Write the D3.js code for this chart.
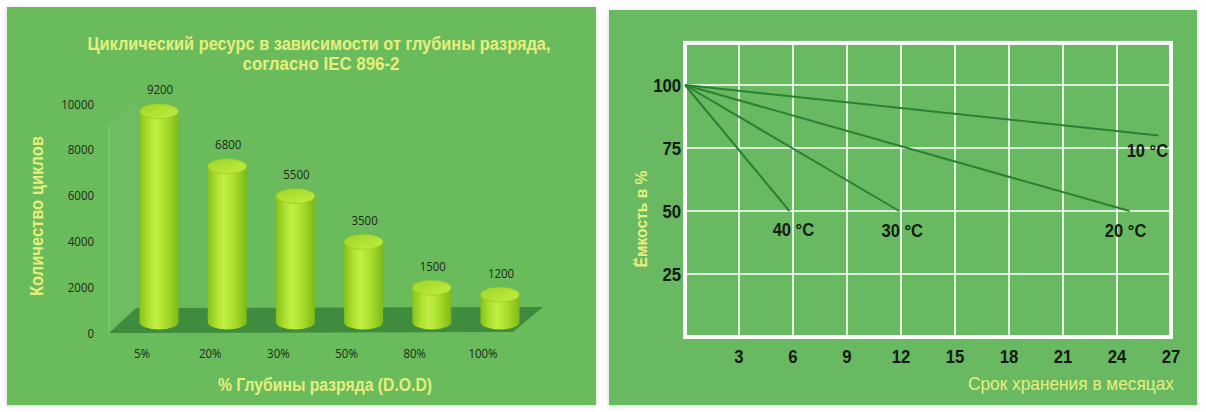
<!DOCTYPE html>
<html>
<head>
<meta charset="utf-8">
<script src="https://cdn.jsdelivr.net/npm/d3@7"></script>
<style>
  body { margin: 0; background: #fff; }
  svg { display: block; }
</style>
</head>
<body>
<script>
// left chart: cycle life vs depth of discharge
var dodLabels = ['5%', '20%', '30%', '50%', '80%', '100%'];
var cycles = [9200, 6800, 5500, 3500, 1500, 1200];
var cycleTicks = [0, 2000, 4000, 6000, 8000, 10000];

// right chart: capacity vs storage time, one line per temperature
var tempNames = ['10 °C', '20 °C', '30 °C', '40 °C'];
var storeMonths = [[0, 26.3], [0, 24.7], [0, 11.9], [0, 5.8]];
var storeCapacity = [[100, 80], [100, 50], [100, 50], [100, 50]];
var monthTicks = [3, 6, 9, 12, 15, 18, 21, 24, 27];
var capTicks = [25, 50, 75, 100];

const W = 1206, H = 412;
const yellow = '#e6ef7e';
const arial = '"Liberation Sans", Arial, sans-serif';
const calibri = '"Open Sans", "Liberation Sans", sans-serif';

const svg = d3.select('body').append('svg').attr('width', W).attr('height', H);

// narrow text: a font squeezed horizontally, like Arial Narrow
function narrow(sel, sx) {
  return sel.attr('transform', function() {
    const x = +d3.select(this).attr('x'), y = +d3.select(this).attr('y');
    d3.select(this).attr('x', 0).attr('y', 0);
    return `translate(${x},${y}) scale(${sx},1)`;
  });
}

const defs = svg.append('defs');
const sh = defs.append('filter').attr('id', 'shadow').attr('x', '-5%').attr('y', '-5%').attr('width', '110%').attr('height', '110%');
sh.append('feDropShadow').attr('dx', 0).attr('dy', 1).attr('stdDeviation', 2).attr('flood-color', '#000').attr('flood-opacity', 0.18);

const body = defs.append('linearGradient').attr('id', 'cyl').attr('x1', 0).attr('x2', 1).attr('y1', 0).attr('y2', 0);
[['0%', '#86c11c'], ['22%', '#acdf30'], ['42%', '#c2ef46'], ['70%', '#a6dc2a'], ['100%', '#7fb818']].forEach(s => {
  body.append('stop').attr('offset', s[0]).attr('stop-color', s[1]);
});
const topG = defs.append('linearGradient').attr('id', 'cyltop').attr('x1', 0).attr('x2', 1).attr('y1', 0).attr('y2', 1);
[['0%', '#a0d428'], ['60%', '#b4e436'], ['100%', '#c2ec48']].forEach(s => {
  topG.append('stop').attr('offset', s[0]).attr('stop-color', s[1]);
});

// ---------- left panel ----------
svg.append('rect').attr('x', 7).attr('y', 7).attr('width', 589).attr('height', 398)
  .attr('fill', '#6bbb5c').attr('filter', 'url(#shadow)');

const xL = d3.scalePoint().domain(dodLabels).range([142, 483]);
const yL = d3.scaleLinear().domain([0, 10000]).range([333, 104]);
const depthX = 17, depthY = 11; // 3d offset of the bar row behind the axis
const bx = d => xL(d) + depthX;
const by = v => yL(v) - depthY;
const rx = 19.5, ry = 7.5;

// side wall and floor
const left = xL.range()[0] - 33, right = xL.range()[1] + 60;
svg.append('path')
  .attr('d', `M${left},${yL(10000) + 20}L${left + 28},${yL(10000) - 4}L${left + 28},${yL(0) - 25}L${left},${yL(0)}Z`)
  .attr('fill', '#ffffff').attr('opacity', 0.03);
svg.append('line').attr('x1', left).attr('x2', left).attr('y1', yL(10000) + 20).attr('y2', yL(0))
  .attr('stroke', '#86c977').attr('stroke-width', 1);
svg.append('path')
  .attr('d', `M${left},${yL(0)}L${left + 27},${yL(0) - 25}L${right},${yL(0) - 26}L${right - 30},${yL(0) - 1}Z`)
  .attr('fill', '#3f8c3f');

// cylinders
const bars = svg.append('g').selectAll('g').data(cycles).enter().append('g');
bars.append('path')
  .attr('d', (d, i) => {
    const cx = bx(dodLabels[i]), t = by(d), b = by(0);
    return `M${cx - rx},${t}L${cx - rx},${b}A${rx},${ry} 0 0 0 ${cx + rx},${b}L${cx + rx},${t}Z`;
  })
  .attr('fill', 'url(#cyl)');
bars.append('ellipse')
  .attr('cx', (d, i) => bx(dodLabels[i])).attr('cy', d => by(d))
  .attr('rx', rx).attr('ry', ry)
  .attr('fill', 'url(#cyltop)').attr('stroke', '#8cc422').attr('stroke-width', 0.6);

narrow(bars.append('text')
  .attr('x', (d, i) => bx(dodLabels[i]) + 1).attr('y', d => by(d) - 17)
  .attr('text-anchor', 'middle').attr('font-family', calibri).attr('font-size', 13.5)
  .attr('fill', '#1f2a17').text(d => d), 0.85);

// axes labels
narrow(svg.append('g').selectAll('text').data(cycleTicks).enter().append('text')
  .attr('x', 94).attr('y', d => yL(d) + 4.5).attr('text-anchor', 'end')
  .attr('font-family', calibri).attr('font-size', 13.5).attr('fill', '#1f2a17').text(d => d), 0.85);

narrow(svg.append('g').selectAll('text').data(dodLabels).enter().append('text')
  .attr('x', d => xL(d)).attr('y', 358).attr('text-anchor', 'middle')
  .attr('font-family', calibri).attr('font-size', 13.5).attr('fill', '#1f2a17').text(d => d), 0.85);

svg.append('text').attr('x', 319).attr('y', 50).attr('text-anchor', 'middle')
  .attr('font-family', arial).attr('font-weight', 'bold').attr('font-size', 18).attr('fill', yellow)
  .attr('textLength', 463).attr('lengthAdjust', 'spacingAndGlyphs')
  .text('Циклический ресурс в зависимости от глубины разряда,');
svg.append('text').attr('x', 321).attr('y', 70).attr('text-anchor', 'middle')
  .attr('font-family', arial).attr('font-weight', 'bold').attr('font-size', 18).attr('fill', yellow)
  .attr('textLength', 157).attr('lengthAdjust', 'spacingAndGlyphs')
  .text('согласно IEC 896-2');

svg.append('text').attr('transform', 'translate(43,216) rotate(-90)')
  .attr('text-anchor', 'middle')
  .attr('font-family', arial).attr('font-weight', 'bold').attr('font-size', 18).attr('fill', yellow)
  .attr('textLength', 160).attr('lengthAdjust', 'spacingAndGlyphs')
  .text('Количество циклов');

svg.append('text').attr('x', 325).attr('y', 391).attr('text-anchor', 'middle')
  .attr('font-family', arial).attr('font-weight', 'bold').attr('font-size', 18).attr('fill', yellow)
  .attr('textLength', 214).attr('lengthAdjust', 'spacingAndGlyphs')
  .text('% Глубины разряда (D.O.D)');

// ---------- right panel ----------
svg.append('rect').attr('x', 609).attr('y', 10).attr('width', 588).attr('height', 395)
  .attr('fill', '#67b962').attr('filter', 'url(#shadow)');

const xR = d3.scaleLinear().domain([0, 27]).range([685, 1171]);
const yR = d3.scaleLinear().domain([0, 100]).range([337, 85]);
const capTop = 116.7;

const grid = svg.append('g').attr('stroke', '#ffffff').attr('stroke-width', 1.6);
grid.selectAll('.v').data(monthTicks.slice(0, -1)).enter().append('line')
  .attr('x1', d => xR(d)).attr('x2', d => xR(d)).attr('y1', yR(0)).attr('y2', yR(capTop));
grid.selectAll('.h').data(capTicks).enter().append('line')
  .attr('x1', xR(0)).attr('x2', xR(27)).attr('y1', d => yR(d)).attr('y2', d => yR(d));
svg.append('rect').attr('x', xR(0)).attr('y', yR(capTop))
  .attr('width', xR(27) - xR(0)).attr('height', yR(0) - yR(capTop))
  .attr('fill', 'none').attr('stroke', '#ffffff').attr('stroke-width', 4);

const line = d3.line().x(d => xR(d[0])).y(d => yR(d[1]));
const series = tempNames.map((n, i) => storeMonths[i].map((m, j) => [m, storeCapacity[i][j]]));
svg.append('g').selectAll('path').data(series).enter().append('path')
  .attr('d', line).attr('fill', 'none').attr('stroke', '#2b8034').attr('stroke-width', 2);

const labelShift = [[-11, 22], [-4, 26], [3, 26], [4, 25]];
narrow(svg.append('g').selectAll('text').data(series).enter().append('text')
  .attr('x', (d, i) => xR(d[1][0]) + labelShift[i][0]).attr('y', (d, i) => yR(d[1][1]) + labelShift[i][1])
  .attr('text-anchor', 'middle')
  .attr('font-family', arial).attr('font-weight', 'bold').attr('font-size', 19).attr('fill', '#141a12')
  .text((d, i) => tempNames[i]), 0.87);

narrow(svg.append('g').selectAll('text').data(capTicks).enter().append('text')
  .attr('x', 681).attr('y', d => yR(d) + 7).attr('text-anchor', 'end')
  .attr('font-family', arial).attr('font-weight', 'bold').attr('font-size', 19).attr('fill', '#141a12')
  .text(d => d), 0.88);

narrow(svg.append('g').selectAll('text').data(monthTicks).enter().append('text')
  .attr('x', d => xR(d)).attr('y', 363).attr('text-anchor', 'middle')
  .attr('font-family', arial).attr('font-weight', 'bold').attr('font-size', 19).attr('fill', '#141a12')
  .text(d => d), 0.88);

svg.append('text').attr('transform', 'translate(647,219) rotate(-90)')
  .attr('text-anchor', 'middle')
  .attr('font-family', arial).attr('font-weight', 'bold').attr('font-size', 16).attr('fill', yellow)
  .attr('textLength', 97).attr('lengthAdjust', 'spacingAndGlyphs')
  .text('Ёмкость в %');

svg.append('text').attr('x', 1174).attr('y', 390).attr('text-anchor', 'end')
  .attr('font-family', arial).attr('font-size', 19).attr('fill', yellow)
  .attr('textLength', 206).attr('lengthAdjust', 'spacingAndGlyphs')
  .text('Срок хранения в месяцах');
</script>
</body>
</html>
